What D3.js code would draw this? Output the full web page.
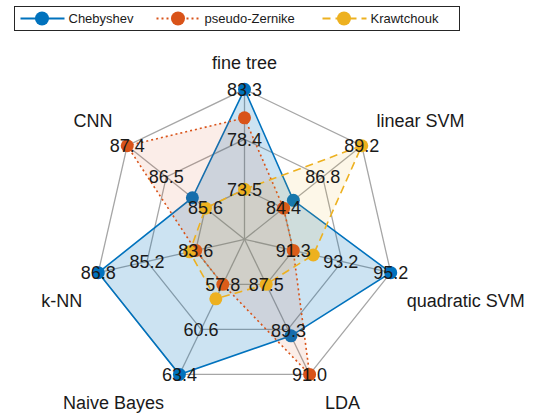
<!DOCTYPE html>
<html>
<head>
<meta charset="utf-8">
<script src="https://cdn.jsdelivr.net/npm/d3@7"></script>
<style>
  body { margin: 0; background: #fff; }
  text { font-family: Arial, "Liberation Sans", sans-serif; fill: #1a1a1a; }
</style>
</head>
<body>
<script>
// Axis names, clockwise from the top
var axisNames = ["fine tree", "linear SVM", "quadratic SVM", "LDA", "Naive Bayes", "k-NN", "CNN"];

// Tick labels shown on rings 1, 2 and 3 of every axis
var axisTicks = [
    [73.5, 78.4, 83.3],
    [84.4, 86.8, 89.2],
    [91.3, 93.2, 95.2],
    [87.5, 89.3, 91.0],
    [57.8, 60.6, 63.4],
    [83.6, 85.2, 86.8],
    [85.6, 86.5, 87.4]
];

// Accuracy per method
var chebyshev     = [83.3, 85.0, 95.2, 89.5, 63.4, 86.8, 85.9];
var pseudoZernike = [80.5, 84.4, 91.3, 91.0, 57.8, 83.6, 87.4];
var krawtchouk    = [73.5, 89.2, 92.1, 87.5, 58.7, 83.8, 85.6];

var seriesNames = ["Chebyshev", "pseudo-Zernike", "Krawtchouk"];

var svg_width = 537;
var svg_height = 417;
var cx = 244.5, cy = 239.3, R = 150;

var series = [
    { name: seriesNames[0], values: chebyshev,     color: "#0072BD", dash: null,  fillOpacity: 0.2 },
    { name: seriesNames[1], values: pseudoZernike, color: "#D95319", dash: "2,3", fillOpacity: 0.1 },
    { name: seriesNames[2], values: krawtchouk,    color: "#EDB120", dash: "8,5", fillOpacity: 0.1 }
];

var svg = d3.select("body").append("svg")
    .attr("width", svg_width)
    .attr("height", svg_height);

var n = axisNames.length;
// angle of each axis, top first then clockwise
var angle = d3.range(n).map(function(i) { return Math.PI / 2 - i * 2 * Math.PI / n; });

// Each axis gets its own scale; the centre sits one ring step below the first tick.
var scales = axisTicks.map(function(t) {
    var step = (t[2] - t[0]) / 2;
    return d3.scaleLinear().domain([t[0] - step, t[2]]).range([0, R]);
});

function pt(i, r) {
    return [cx + r * Math.cos(angle[i]), cy - r * Math.sin(angle[i])];
}

// Web grid: rings and spokes
var grid = svg.append("g").attr("stroke", "#a6a6a6").attr("stroke-width", 1.3).attr("fill", "none");
[1, 2, 3].forEach(function(k) {
    grid.append("polygon")
        .attr("points", d3.range(n).map(function(i) { return pt(i, R * k / 3).join(","); }).join(" "));
});
d3.range(n).forEach(function(i) {
    var p = pt(i, R);
    grid.append("line").attr("x1", cx).attr("y1", cy).attr("x2", p[0]).attr("y2", p[1]);
});

// Data polygons
series.forEach(function(s) {
    var pts = s.values.map(function(v, i) { return pt(i, scales[i](v)); });
    var g = svg.append("g");
    g.append("polygon")
        .attr("points", pts.map(function(p) { return p.join(","); }).join(" "))
        .attr("fill", s.color)
        .attr("fill-opacity", s.fillOpacity)
        .attr("stroke", "none");
    g.append("path")
        .attr("d", d3.line()(pts.concat([pts[0]])))
        .attr("fill", "none")
        .attr("stroke", s.color)
        .attr("stroke-width", 1.6)
        .attr("stroke-dasharray", s.dash);
    g.selectAll("circle").data(pts).enter().append("circle")
        .attr("cx", function(p) { return p[0]; })
        .attr("cy", function(p) { return p[1]; })
        .attr("r", 6.5)
        .attr("fill", s.color);
});

// Ring tick labels, centred on the ring points
d3.range(n).forEach(function(i) {
    axisTicks[i].forEach(function(t, k) {
        var p = pt(i, scales[i](t));
        svg.append("text")
            .attr("x", p[0]).attr("y", p[1])
            .attr("dy", "0.35em")
            .attr("text-anchor", "middle")
            .attr("font-size", "18px")
            .text(t.toFixed(1));
    });
});

// Axis labels. Near-horizontal ones drop below the outer tick label.
d3.range(n).forEach(function(i) {
    var c = Math.cos(angle[i]), s = Math.sin(angle[i]);
    var anchor = Math.abs(c) < 0.05 ? "middle" : (c > 0 ? "start" : "end");
    var side = Math.abs(c) < 0.05 ? 0 : (c > 0 ? 1 : -1);
    var x, y;
    if (Math.abs(s) < 0.3) {
        var o = pt(i, R);
        x = o[0] + side * 16;
        y = o[1] + 34;
    } else {
        var p = pt(i, s > 0.99 ? 166 : 174);
        // upper labels sit a bit inward, lower ones a bit outward
        x = p[0] + side * (s > 0 ? -4 : 5);
        y = s > 0 ? p[1] - 4 : p[1] + 13;
    }
    svg.append("text")
        .attr("x", x).attr("y", y)
        .attr("text-anchor", anchor)
        .attr("font-size", "18px")
        .text(axisNames[i]);
});

// Legend
var legend = svg.append("g");
legend.append("rect")
    .attr("x", 14.5).attr("y", 6.5)
    .attr("width", 445).attr("height", 24)
    .attr("fill", "#fff")
    .attr("stroke", "#262626")
    .attr("stroke-width", 1);
var legendX = [20.5, 156.5, 322.5];
series.forEach(function(s, k) {
    var x0 = legendX[k];
    legend.append("line")
        .attr("x1", x0).attr("x2", x0 + 44)
        .attr("y1", 18.5).attr("y2", 18.5)
        .attr("stroke", s.color)
        .attr("stroke-width", 2)
        .attr("stroke-dasharray", s.dash);
    legend.append("circle")
        .attr("cx", x0 + 21.5).attr("cy", 18.5)
        .attr("r", 7)
        .attr("fill", s.color);
    legend.append("text")
        .attr("x", x0 + 48).attr("y", 18.5)
        .attr("dy", "0.35em")
        .attr("font-size", "13px")
        .text(s.name);
});
</script>
</body>
</html>
